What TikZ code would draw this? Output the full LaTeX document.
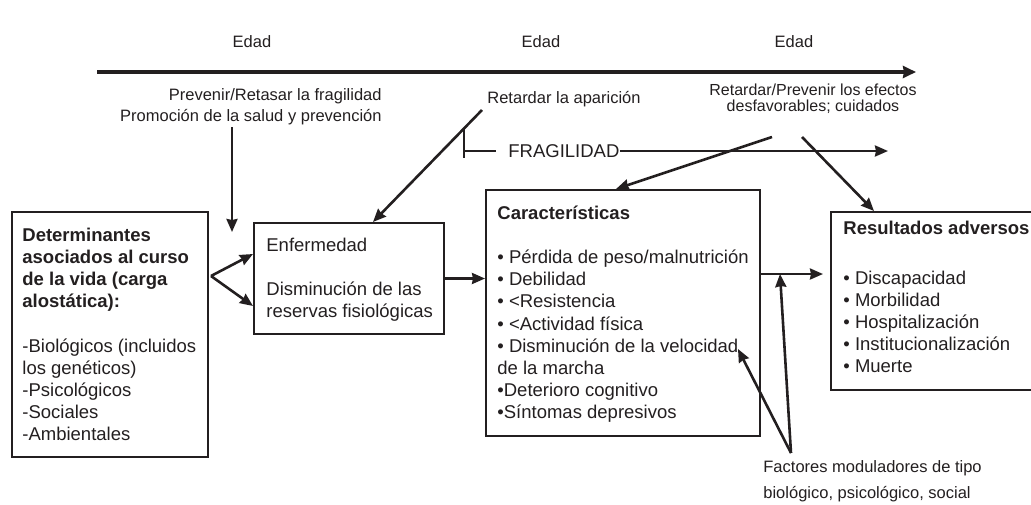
\documentclass[tikz,border=0pt]{standalone}
\usepackage{fontspec}
\setmainfont{Liberation Sans}
\usepackage{tikz}
\usetikzlibrary{arrows,arrows.meta,positioning}
\definecolor{ink}{RGB}{35,31,32}

\begin{document}
\begin{tikzpicture}[x=1pt, y=-1pt, thick, color=ink, text=ink]
\tikzstyle{box} = [rectangle, draw, line width=2pt, anchor=north west, inner sep=0pt]
\tikzstyle{txt} = [anchor=base west, align=left, inner sep=0pt, font=\fontsize{18.5}{22.2}\selectfont]
\tikzstyle{note} = [inner sep=0pt, font=\fontsize{16.5}{21}\selectfont]
\tikzstyle{arrow} = [line width=2.6pt, -{Stealth[length=13pt,width=11pt,inset=1pt]}]

\useasboundingbox (0,0) rectangle (1031,504);
\clip (0,0) rectangle (1031,504);

% age axis
\node [note, anchor=base] (edad1) at (252,47.5) {Edad};
\node [note, anchor=base] (edad2) at (541,47.5) {Edad};
\node [note, anchor=base] (edad3) at (794,47.5) {Edad};
\coordinate (axis0) at (97,72);
\coordinate (axis1) at (916,72);
\draw [line width=4pt, -{Stealth[length=13pt,width=12pt,inset=1pt]}] (axis0) -- (axis1);

% boxes
\node [box, minimum width=196, minimum height=245] (det) at (11,211) {};
\node [box, minimum width=190, minimum height=111] (enf) at (253,222) {};
\node [box, minimum width=274, minimum height=246] (car) at (485,189) {};
\node [box, minimum width=220, minimum height=178] (res) at (830,211) {};

% texts (base = last line)
\node [txt] (detTxt) at (22,440.8) {\textbf{Determinantes}\\\textbf{asociados al curso}\\\textbf{de la vida (carga}\\\textbf{alostática):}\\[22.2pt]-Biológicos (incluidos\\los genéticos)\\-Psicológicos\\-Sociales\\-Ambientales};
\node [txt] (enfTxt) at (266,317.9) {Enfermedad\\[22.5pt]Disminución de las\\reservas fisiológicas};
\node [txt] (carTxt) at (497,418.8) {\textbf{Características}\\[22.2pt]• Pérdida de peso/malnutrición\\• Debilidad\\• <Resistencia\\• <Actividad física\\• Disminución de la velocidad\\de la marcha\\•Deterioro cognitivo\\•Síntomas depresivos};
\node [txt] (resTxt) at (843,372.8) {\textbf{Resultados adversos:}\\[27.8pt]• Discapacidad\\• Morbilidad\\• Hospitalización\\• Institucionalización\\• Muerte};

% interventions
\node [note, anchor=base east, align=right] (prev) at (382,121.5) {Prevenir/Retasar la fragilidad\\Promoción de la salud y prevención};
\node [note, anchor=base west] (apar) at (487,103) {Retardar la aparición};
\node [note, anchor=base, align=center, font=\fontsize{16}{16.5}\selectfont] (efec) at (813,111.5) {Retardar/Prevenir los efectos\\desfavorables; cuidados};
\node [inner sep=0pt, anchor=west, font=\fontsize{18.5}{22.2}\selectfont] (frag) at (508,151) {FRAGILIDAD};
\node [note, anchor=base west, align=left, font=\fontsize{16.5}{26}\selectfont] (fact) at (763,498) {Factores moduladores de tipo\\biológico, psicológico, social};

\coordinate (prev0) at (232,127);
\coordinate (prev1) at (232,232);
\coordinate (fork) at (211,276);
\coordinate (apar0) at (482,110);
\coordinate (tbar) at (464,128);
\coordinate (fragEnd) at (888,151);
\coordinate (efec0) at (772,137);
\coordinate (efec1) at (802,137);
\coordinate (mod) at (780,274);
\coordinate (fact0) at (791,453);
\coordinate (vel) at (738,349);

\draw [arrow] (prev0) -- (prev1);
\draw [arrow] (fork) -- ([yshift=24.5]enf.west);
\draw [arrow] (fork) -- ([yshift=-27.5]enf.west);
\draw [arrow] (apar0) -- ([xshift=24]enf.north);
\draw [line width=2pt] (tbar) -- ++(0,30);
\draw [line width=2pt] (tbar |- frag.west) -- ([xshift=-12]frag.west);
\draw [arrow] (frag.east) -- (fragEnd);
\draw [arrow] (efec0) -- ([xshift=-7]car.north);
\draw [arrow] (efec1) -- ([xshift=44]res.north west);
\draw [arrow] (enf.east) -- (enf.east -| car.west);
\draw [arrow] (car.east |- mod) -- ([xshift=-7]res.west |- mod);
\draw [arrow] (fact0) -- (mod);
\draw [arrow] (fact0) -- (vel);

\end{tikzpicture}
\end{document}
